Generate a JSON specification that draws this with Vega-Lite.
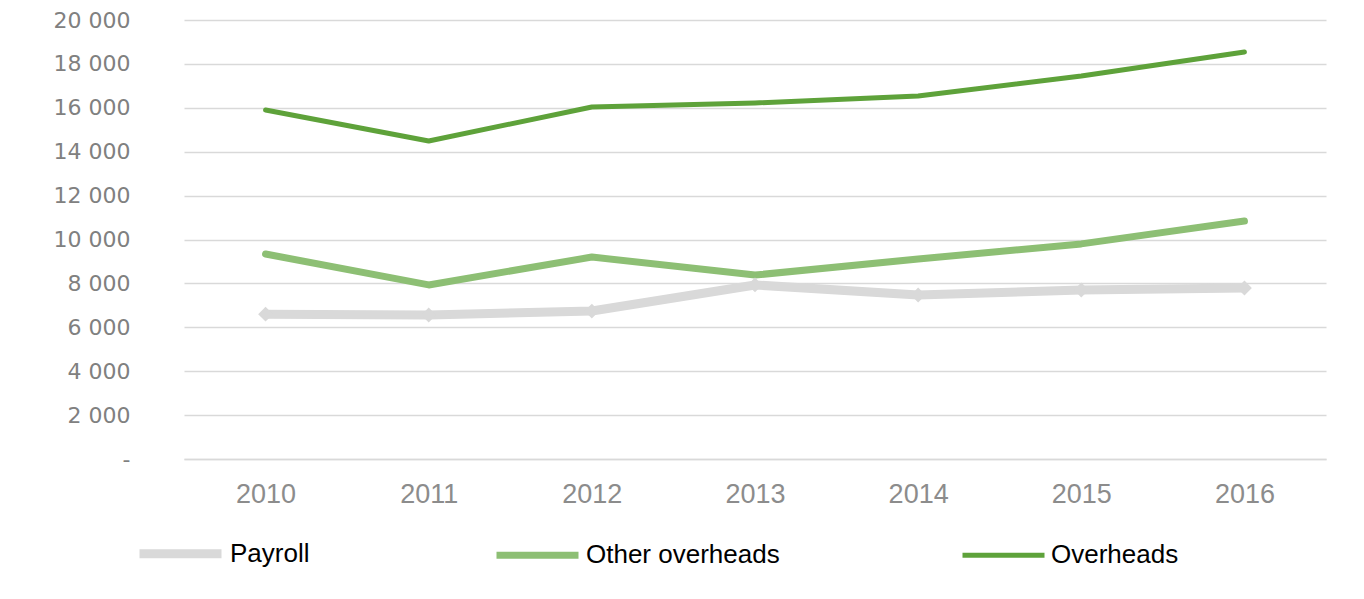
{
  "$schema": "https://vega.github.io/schema/vega-lite/v6.json",
  "autosize": {"type": "none"},
  "width": 1142,
  "height": 439,
  "padding": {"left": 184, "top": 20, "right": 38, "bottom": 140},
  "background": "white",
  "config": {"view": {"stroke": null}},
  "data": {
    "values": [
      {"year": "2010", "series": "Payroll", "value": 6600},
      {"year": "2011", "series": "Payroll", "value": 6560},
      {"year": "2012", "series": "Payroll", "value": 6740},
      {"year": "2013", "series": "Payroll", "value": 7930},
      {"year": "2014", "series": "Payroll", "value": 7470},
      {"year": "2015", "series": "Payroll", "value": 7700},
      {"year": "2016", "series": "Payroll", "value": 7790},
      {"year": "2010", "series": "Other overheads", "value": 9340},
      {"year": "2011", "series": "Other overheads", "value": 7930},
      {"year": "2012", "series": "Other overheads", "value": 9200},
      {"year": "2013", "series": "Other overheads", "value": 8380},
      {"year": "2014", "series": "Other overheads", "value": 9110},
      {"year": "2015", "series": "Other overheads", "value": 9800},
      {"year": "2016", "series": "Other overheads", "value": 10840},
      {"year": "2010", "series": "Overheads", "value": 15900},
      {"year": "2011", "series": "Overheads", "value": 14490},
      {"year": "2012", "series": "Overheads", "value": 16035},
      {"year": "2013", "series": "Overheads", "value": 16220},
      {"year": "2014", "series": "Overheads", "value": 16540},
      {"year": "2015", "series": "Overheads", "value": 17450},
      {"year": "2016", "series": "Overheads", "value": 18540}
    ]
  },
  "encoding": {
    "x": {
      "field": "year", "type": "ordinal",
      "scale": {"type": "point", "padding": 0.5},
      "axis": {
        "title": null, "labelAngle": 0, "ticks": false,
        "domain": true, "domainColor": "#d9d9d9", "domainWidth": 1.5,
        "labelFont": "Liberation Sans", "labelFontSize": 27, "labelColor": "#8c8c8c",
        "labelPadding": 22, "grid": false
      }
    },
    "y": {
      "field": "value", "type": "quantitative",
      "scale": {"domain": [0, 20000], "nice": false},
      "axis": {
        "title": null, "values": [0, 2000, 4000, 6000, 8000, 10000, 12000, 14000, 16000, 18000, 20000],
        "labelExpr": "datum.value == 0 ? '-' : replace(datum.label, ',', ' ')",
        "ticks": false, "domain": false, "grid": true, "gridColor": "#d9d9d9", "gridWidth": 1.5,
        "labelFont": "DejaVu Sans", "labelFontSize": 22, "labelColor": "#808080",
        "labelPadding": 54
      }
    }
  },
  "layer": [
    {
      "mark": {"type": "line", "strokeCap": "round", "strokeJoin": "round"},
      "encoding": {
        "color": {
          "field": "series", "type": "nominal",
          "scale": {"domain": ["Payroll", "Other overheads", "Overheads"], "range": ["#d9d9d9", "#8dbf74", "#5ea23a"]},
          "legend": {
            "title": null, "orient": "none", "direction": "horizontal",
            "legendX": -49, "legendY": 488,
            "symbolType": "stroke", "symbolSize": 6724, "symbolStrokeWidth": 6,
            "labelFont": "Liberation Sans", "labelFontSize": 26, "labelColor": "#000000",
            "labelOffset": 4, "columnPadding": 172, "labelLimit": 400
          }
        },
        "strokeWidth": {
          "field": "series", "type": "nominal",
          "scale": {"domain": ["Payroll", "Other overheads", "Overheads"], "range": [9, 5, 7]},
          "legend": null
        },
        "order": {"field": "year"}
      }
    },
    {
      "transform": [{"filter": "datum.series == 'Payroll'"}],
      "mark": {"type": "point", "shape": "diamond", "filled": true, "size": 220, "color": "#d9d9d9", "opacity": 1}
    }
  ]
}
